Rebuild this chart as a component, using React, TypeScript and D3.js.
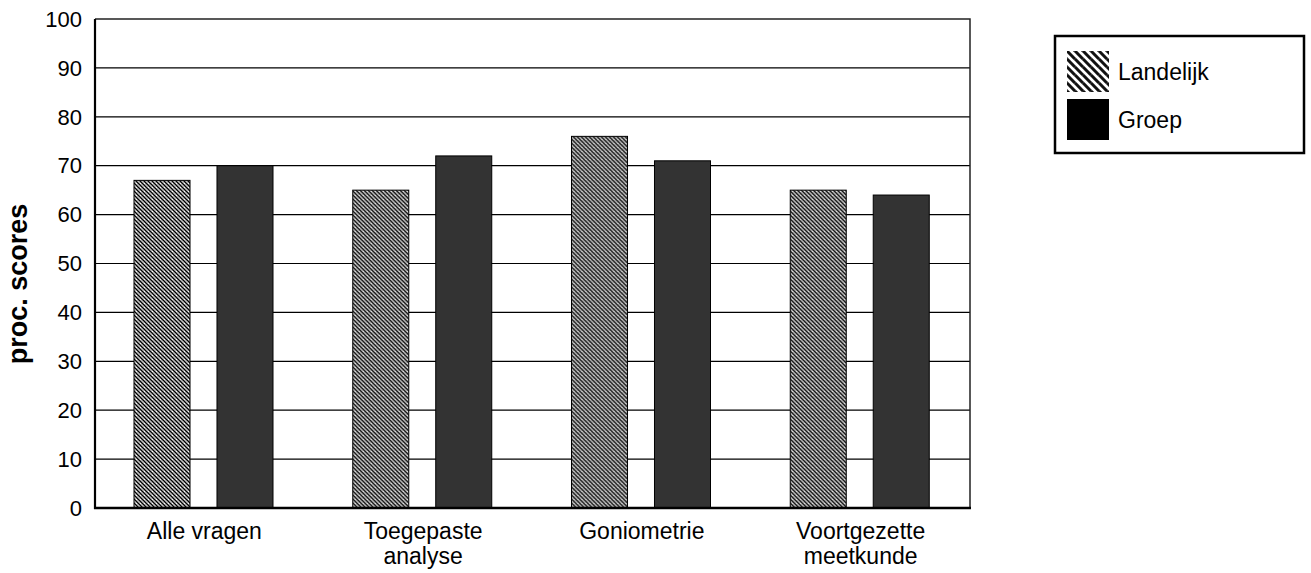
import * as d3 from "d3";
import React, { useEffect, useRef } from "react";

const categories = ["Alle vragen", "Toegepaste analyse", "Goniometrie", "Voortgezette meetkunde"];
const categoryLines = [["Alle vragen"], ["Toegepaste", "analyse"], ["Goniometrie"], ["Voortgezette", "meetkunde"]];
const series = ["Landelijk", "Groep"];
const landelijk = [67, 65, 76, 65];
const groep = [70, 72, 71, 64];
const yTicks = [0, 10, 20, 30, 40, 50, 60, 70, 80, 90, 100];

const FONT = "'Liberation Sans', Arial, sans-serif";

const App: React.FC = () => {
  const svgRef = useRef<SVGSVGElement | null>(null);

  useEffect(() => {
    const svg = d3.select(svgRef.current);
    const width = 1311;
    const height = 573;
    const margin = { top: 19, right: 341, bottom: 65, left: 95 };

    svg.selectAll("*").remove();

    // patronen voor de arcering
    const defs = svg.append("defs");
    const hatch = defs
      .append("pattern")
      .attr("id", "hatch")
      .attr("patternUnits", "userSpaceOnUse")
      .attr("width", 4)
      .attr("height", 4);
    hatch.append("rect").attr("width", 4).attr("height", 4).attr("fill", "#fff");
    hatch
      .append("path")
      .attr("d", "M-1,3 L1,5 M0,0 L4,4 M3,-1 L5,1")
      .attr("stroke", "#000")
      .attr("stroke-width", 1.5);
    hatch
      .append("path")
      .attr("d", "M-1,1 L1,3 M1,-1 L5,3 M2,-2 L6,2")
      .attr("stroke", "#999")
      .attr("stroke-width", 0.6);

    const hatchBig = defs
      .append("pattern")
      .attr("id", "hatchBig")
      .attr("patternUnits", "userSpaceOnUse")
      .attr("width", 8)
      .attr("height", 8);
    hatchBig.append("rect").attr("width", 8).attr("height", 8).attr("fill", "#fff");
    hatchBig
      .append("path")
      .attr("d", "M-2,6 L2,10 M0,0 L8,8 M6,-2 L10,2")
      .attr("stroke", "#111")
      .attr("stroke-width", 3);
    hatchBig
      .append("path")
      .attr("d", "M-4,4 L4,12 M4,-4 L12,4")
      .attr("stroke", "#888")
      .attr("stroke-width", 1.2);

    const x0 = d3
      .scaleBand<string>()
      .domain(categories)
      .range([margin.left, width - margin.right])
      .padding(0);

    const x1 = d3.scaleBand<string>().domain(series).range([39, 178]).paddingInner(0.325).paddingOuter(0);

    const y = d3
      .scaleLinear()
      .domain([0, 100])
      .range([height - margin.bottom, margin.top]);

    const x0px = margin.left;
    const x1px = width - margin.right;

    // rasterlijnen
    svg
      .append("g")
      .selectAll("line")
      .data(yTicks.filter((t) => t > 0 && t < 100))
      .join("line")
      .attr("x1", x0px)
      .attr("x2", x1px)
      .attr("y1", (d) => y(d))
      .attr("y2", (d) => y(d))
      .attr("stroke", "#000")
      .attr("stroke-width", 1.2);

    // kader boven en rechts
    svg
      .append("path")
      .attr("d", `M${x0px},${y(100)} H${x1px} V${y(0)}`)
      .attr("fill", "none")
      .attr("stroke", "#222")
      .attr("stroke-width", 1.5);

    // staven
    const values: Record<string, number[]> = { Landelijk: landelijk, Groep: groep };
    const g = svg
      .append("g")
      .selectAll("g")
      .data(categories)
      .join("g")
      .attr("transform", (d) => `translate(${x0(d)},0)`);

    g.selectAll("rect")
      .data((d, i) => series.map((s) => ({ s, v: values[s][i] })))
      .join("rect")
      .attr("x", (d) => x1(d.s) as number)
      .attr("width", x1.bandwidth())
      .attr("y", (d) => y(d.v))
      .attr("height", (d) => y(0) - y(d.v))
      .attr("fill", (d) => (d.s === "Landelijk" ? "url(#hatch)" : "#333"))
      .attr("stroke", "#000")
      .attr("stroke-width", 1);

    // assen
    svg
      .append("line")
      .attr("x1", x0px)
      .attr("x2", x0px)
      .attr("y1", y(100))
      .attr("y2", y(0) + 1)
      .attr("stroke", "#000")
      .attr("stroke-width", 2.2);
    svg
      .append("line")
      .attr("x1", x0px - 1)
      .attr("x2", x1px + 1)
      .attr("y1", y(0))
      .attr("y2", y(0))
      .attr("stroke", "#000")
      .attr("stroke-width", 2.5);

    // y-labels
    svg
      .append("g")
      .selectAll("text")
      .data(yTicks)
      .join("text")
      .attr("x", 82)
      .attr("y", (d) => y(d))
      .attr("dy", "0.35em")
      .attr("text-anchor", "end")
      .attr("font-family", FONT)
      .attr("font-size", 22)
      .text((d) => d);

    // categorie-labels
    const cat = svg
      .append("g")
      .selectAll("text")
      .data(categories)
      .join("text")
      .attr("text-anchor", "middle")
      .attr("font-family", FONT)
      .attr("font-size", 23)
      .attr("x", (d) => (x0(d) as number) + x0.bandwidth() / 2)
      .attr("y", 539);
    cat
      .selectAll("tspan")
      .data((d, i) => categoryLines[i])
      .join("tspan")
      .attr("x", function () {
        return (this.parentNode as SVGTextElement).getAttribute("x");
      })
      .attr("dy", (d, i) => (i === 0 ? 0 : 25))
      .text((d) => d);

    // as-titel
    svg
      .append("text")
      .attr("transform", `translate(27,284) rotate(-90)`)
      .attr("text-anchor", "middle")
      .attr("font-family", FONT)
      .attr("font-size", 27)
      .attr("font-weight", "bold")
      .text("proc. scores");

    // legenda
    const leg = svg.append("g");
    leg
      .append("rect")
      .attr("x", 1055)
      .attr("y", 36)
      .attr("width", 249)
      .attr("height", 117)
      .attr("fill", "#fff")
      .attr("stroke", "#000")
      .attr("stroke-width", 2.5);
    const items = leg
      .selectAll("g")
      .data(series)
      .join("g")
      .attr("transform", (d, i) => `translate(1067,${51 + i * 48})`);
    items
      .append("rect")
      .attr("width", 42)
      .attr("height", 41)
      .attr("fill", (d) => (d === "Landelijk" ? "url(#hatchBig)" : "#000"));
    items
      .append("text")
      .attr("x", 51)
      .attr("y", 21)
      .attr("dy", "0.35em")
      .attr("font-family", FONT)
      .attr("font-size", 23)
      .text((d) => d);
  }, []);

  return (
    <svg
      ref={svgRef}
      width={1311}
      height={573}
      style={{ position: "absolute", left: 0, top: 0, background: "#fff" }}
    ></svg>
  );
};

export default App;
